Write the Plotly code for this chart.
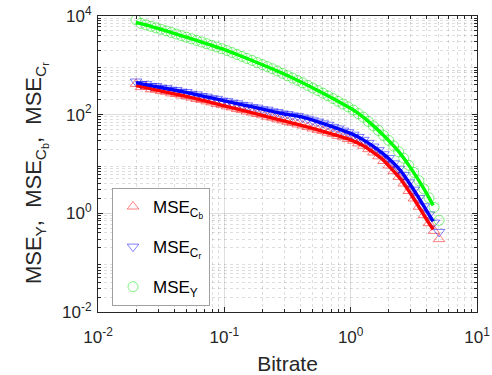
import plotly.graph_objects as go

# Measured bitrates (markers) and the three MSE series
bitrate = [0.0200, 0.0219, 0.0240, 0.0263, 0.0288, 0.0316, 0.0347, 0.0380, 0.0417, 0.0457,
           0.0501, 0.0550, 0.0603, 0.0661, 0.0724, 0.0794, 0.0871, 0.0955, 0.105, 0.115,
           0.126, 0.138, 0.151, 0.166, 0.182, 0.200, 0.219, 0.240, 0.263, 0.288,
           0.316, 0.347, 0.380, 0.417, 0.457, 0.501, 0.550, 0.603, 0.661, 0.724,
           0.794, 0.871, 0.955, 1.05, 1.15, 1.26, 1.38, 1.51, 1.66, 1.82,
           2.00, 2.19, 2.40, 2.63, 2.88, 3.16, 3.47, 3.80, 4.17, 4.57, 5.01]

mse_cb = [420, 362, 371, 326, 322, 300, 291, 270, 262, 245,
          236, 222, 208, 199, 186, 177, 165, 158, 147, 140,
          130, 124, 116, 110, 103, 97.5, 91.0, 86.5, 80.7, 76.5,
          71.6, 68.0, 63.5, 60.2, 56.0, 52.5, 49.2, 46.6, 43.1, 40.5,
          37.2, 35.0, 32.1, 29.6, 26.2, 23.4, 20.0, 17.1, 14.3, 11.5,
          9.33, 7.14, 5.47, 4.02, 2.83, 2.00, 1.36, 0.92, 0.63, 0.44, 0.30]

mse_cr = [470, 418, 420, 383, 381, 352, 345, 321, 316, 293,
          288, 265, 257, 239, 232, 216, 209, 193, 188, 175,
          170, 158, 154, 142, 139, 129, 126, 117, 113, 106,
          103, 96.5, 94.2, 87.5, 83.0, 76.7, 72.5, 66.8, 62.5, 56.6,
          52.5, 47.5, 44.0, 39.3, 35.3, 30.9, 26.8, 22.6, 19.1, 15.8,
          13.2, 10.3, 8.02, 5.97, 4.25, 3.02, 2.05, 1.39, 0.95, 0.65, 0.42]

mse_y = [8400, 7079, 6607, 6166, 5754, 5370, 4989, 4634, 4305, 3999,
         3715, 3451, 3206, 2972, 2748, 2541, 2350, 2173, 1995, 1820,
         1660, 1514, 1380, 1256, 1140, 1035, 940, 853, 769, 689,
         617, 552, 494, 441, 391, 347, 308, 273, 241, 212,
         186, 164, 144, 124, 105, 89.1, 72.8, 59.4, 47.9, 38.0,
         30.2, 23.1, 17.7, 13.1, 9.42, 6.76, 4.59, 3.12, 2.06, 1.32, 0.72]

# Fitted rate-distortion curves
fit_rate = [0.02, 0.025, 0.03, 0.04, 0.05, 0.07, 0.1, 0.14, 0.2, 0.28,
            0.4, 0.55, 0.75, 1.0, 1.25, 1.5, 1.8, 2.1, 2.5, 2.9,
            3.3, 3.7, 4.1, 4.5]
fit_cb = [389, 344, 311, 265, 235, 190, 151, 122, 96.4, 77.5,
          61.5, 49.2, 38.9, 30.9, 23.7, 17.4, 12.2, 8.05, 4.85, 2.78,
          1.66, 1.03, 0.67, 0.47]
fit_cr = [447, 398, 364, 316, 282, 233, 191, 158, 130, 107,
          91.0, 71.6, 54.8, 41.7, 31.2, 23.0, 16.2, 11.5, 7.16, 4.18,
          2.51, 1.56, 1.01, 0.69]
fit_y = [7450, 6410, 5580, 4450, 3720, 2830, 2090, 1490, 1030, 714,
         465, 308, 202, 135, 90.2, 60.7, 39.2, 26.1, 15.7, 9.27,
         5.62, 3.51, 2.24, 1.45]

x_ticks = [0.01, 0.1, 1, 10]
x_tick_text = ["10<sup>-2</sup>", "10<sup>-1</sup>", "10<sup>0</sup>", "10<sup>1</sup>"]
y_ticks = [0.01, 1, 100, 10000]
y_tick_text = ["10<sup>-2</sup>", "10<sup>0</sup>", "10<sup>2</sup>", "10<sup>4</sup>"]

# minor ticks at 2..9 within each decade
x_minor = [m * 10.0 ** e for e in range(-2, 1) for m in range(2, 10)]
y_minor = [m * 10.0 ** e for e in range(-2, 4) for m in range(2, 10)]

FONT = "Arial, Liberation Sans, sans-serif"
AX = "#262626"
GRID = "rgba(0,0,0,0.13)"
GAP = "\u00a0\u00a0"

fig = go.Figure()

series = [
    ("MSE<sub>C<sub>b</sub></sub>", mse_cb, fit_cb, "triangle-up-open", "rgba(255,0,0,0.5)", "#ff0000"),
    ("MSE<sub>C<sub>r</sub></sub>", mse_cr, fit_cr, "triangle-down-open", "rgba(0,0,255,0.5)", "#0000ff"),
    ("MSE<sub>Y</sub>", mse_y, fit_y, "circle-open", "rgba(0,230,0,0.5)", "#00ff00"),
]

for i, (name, vals, fit, sym, mcol, lcol) in enumerate(series):
    fig.add_trace(go.Scatter(
        x=bitrate, y=vals, mode="markers", name=name, legendgroup=str(i),
        marker=dict(symbol=sym, size=10, color=mcol, line=dict(width=1, color=mcol)),
    ))

for i, (name, vals, fit, sym, mcol, lcol) in enumerate(series):
    fig.add_trace(go.Scatter(
        x=fit_rate, y=fit, mode="lines", showlegend=False, legendgroup=str(i),
        line=dict(color=lcol, width=3.4, shape="spline", smoothing=0.6),
    ))

axis_common = dict(
    type="log", showline=True, linecolor=AX, linewidth=1, mirror="ticks",
    ticks="inside", ticklen=5, tickcolor=AX, showgrid=True,
    gridcolor=GRID, gridwidth=1, zeroline=False, automargin=False,
    tickfont=dict(family=FONT, size=17, color=AX),
)

fig.update_xaxes(range=[-2, 1], tickmode="array", tickvals=x_ticks, ticktext=x_tick_text,
                 ticklabelstandoff=10,
                 minor=dict(tickmode="array", tickvals=x_minor, ticks="inside", ticklen=3,
                            tickcolor=AX, showgrid=True, gridcolor=GRID, griddash="dot"),
                 title=dict(text="Bitrate", font=dict(family=FONT, size=21, color=AX), standoff=12),
                 **axis_common)
fig.update_yaxes(range=[-2, 4], tickmode="array", tickvals=y_ticks, ticktext=y_tick_text,
                 ticklabelstandoff=2,
                 minor=dict(tickmode="array", tickvals=y_minor, ticks="inside", ticklen=3,
                            tickcolor=AX, showgrid=True, gridcolor=GRID, griddash="dot"),
                 **axis_common)

# y-axis label, placed as a rotated annotation
fig.add_annotation(
    text="MSE<sub>Y</sub>," + GAP + "MSE<sub>C<sub>b</sub></sub>," + GAP + "MSE<sub>C<sub>r</sub></sub>",
    xref="paper", yref="paper", x=-0.163, y=0.47, xanchor="center", yanchor="middle",
    textangle=-90, showarrow=False, font=dict(family=FONT, size=22, color=AX),
)

fig.update_layout(
    width=492, height=375,
    margin=dict(l=98, r=15, t=16, b=63),
    paper_bgcolor="white", plot_bgcolor="white",
    font=dict(family=FONT, color=AX),
    legend=dict(x=0.037, y=0.419, xanchor="left", yanchor="top",
                bgcolor="white", bordercolor="#a0a0a0", borderwidth=1,
                font=dict(family=FONT, size=17, color="#000000"),
                tracegroupgap=15),
)

fig.write_html("out.html")
